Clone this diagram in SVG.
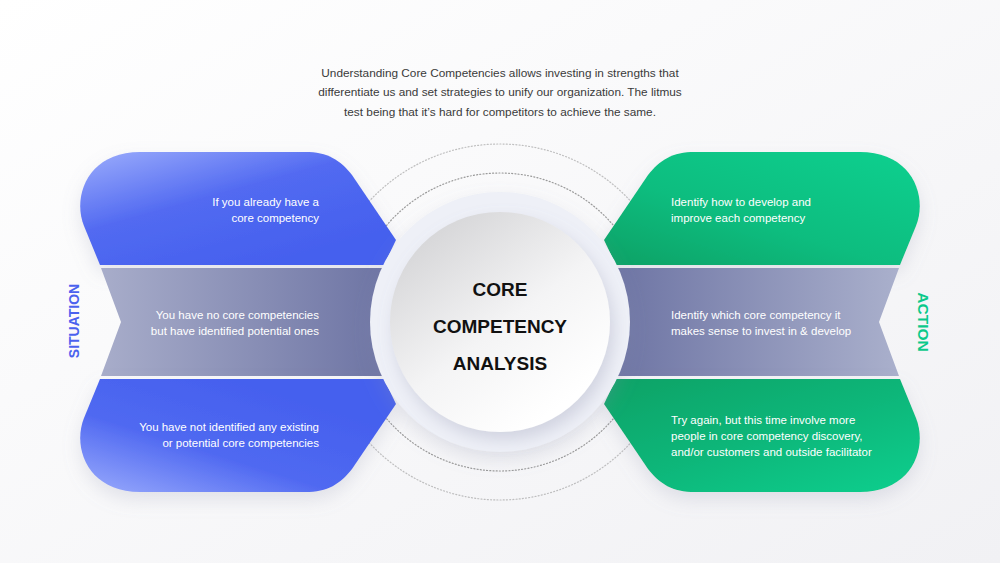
<svg xmlns="http://www.w3.org/2000/svg" width="1000" height="563" viewBox="0 0 1000 563">
  <defs>
    <linearGradient id="bg" x1="0" y1="0" x2="1" y2="1">
      <stop offset="0" stop-color="#ffffff"/>
      <stop offset="1" stop-color="#f1f1f4"/>
    </linearGradient>
    <linearGradient id="blueTop" x1="0" y1="0" x2="0.7" y2="0.9">
      <stop offset="0" stop-color="#9cadfc"/>
      <stop offset="0.5" stop-color="#526af1"/>
      <stop offset="1" stop-color="#4560ee"/>
    </linearGradient>
    <linearGradient id="blueBot" x1="0" y1="1" x2="0.7" y2="0.2">
      <stop offset="0" stop-color="#9aabfc"/>
      <stop offset="0.5" stop-color="#5069f1"/>
      <stop offset="1" stop-color="#4560ee"/>
    </linearGradient>
    <linearGradient id="greenTop" x1="1" y1="0" x2="0.1" y2="1">
      <stop offset="0" stop-color="#0dd08f"/>
      <stop offset="0.6" stop-color="#0abd7f"/>
      <stop offset="1" stop-color="#07a468"/>
    </linearGradient>
    <linearGradient id="greenBot" x1="0.1" y1="0" x2="1" y2="1">
      <stop offset="0" stop-color="#07a468"/>
      <stop offset="0.5" stop-color="#0ab77a"/>
      <stop offset="1" stop-color="#0dcf8e"/>
    </linearGradient>
    <linearGradient id="bandL" x1="0" y1="0" x2="1" y2="0">
      <stop offset="0" stop-color="#a8adca"/>
      <stop offset="1" stop-color="#666d9f"/>
    </linearGradient>
    <linearGradient id="bandR" x1="0" y1="0" x2="1" y2="0">
      <stop offset="0" stop-color="#666d9f"/>
      <stop offset="1" stop-color="#aab0cc"/>
    </linearGradient>
    <linearGradient id="inner" x1="0.15" y1="0.1" x2="0.75" y2="0.9">
      <stop offset="0" stop-color="#d6d6d8"/>
      <stop offset="0.55" stop-color="#f4f4f5"/>
      <stop offset="1" stop-color="#ffffff"/>
    </linearGradient>
    <clipPath id="arcClip">
      <rect x="300" y="100" width="400" height="135"/>
      <rect x="300" y="410" width="400" height="120"/>
    </clipPath>
    <filter id="shadow" x="-20%" y="-20%" width="140%" height="150%">
      <feDropShadow dx="0" dy="8" stdDeviation="9" flood-color="#8d93ad" flood-opacity="0.22"/>
    </filter>
    <filter id="cshadow" x="-20%" y="-20%" width="140%" height="150%">
      <feDropShadow dx="4" dy="8" stdDeviation="8" flood-color="#8d93ad" flood-opacity="0.3"/>
    </filter>
    <style>
      .body { font-family: "Liberation Sans", Arial, sans-serif; font-size: 11.5px; fill: #ffffff; }
      .intro { font-family: "Liberation Sans", Arial, sans-serif; font-size: 11.8px; fill: #3a3a3a; }
      .title { font-family: "Liberation Sans", Arial, sans-serif; font-size: 19px; font-weight: bold; fill: #111111; }
      .side { font-family: "Liberation Sans", Arial, sans-serif; font-weight: bold; }
      .dots { fill: none; stroke: #9a9a9a; stroke-width: 1.2; stroke-dasharray: 1 2.2; stroke-linecap: round; }
    </style>
  </defs>

  <rect x="0" y="0" width="1000" height="563" fill="url(#bg)"/>

  <g id="intro">
    <text class="intro" x="500" y="77" text-anchor="middle">Understanding Core Competencies allows investing in strengths that</text>
    <text class="intro" x="500" y="96" text-anchor="middle">differentiate us and set strategies to unify our organization. The litmus</text>
    <text class="intro" x="500" y="116" text-anchor="middle">test being that it’s hard for competitors to achieve the same.</text>
  </g>

  <g id="rings" clip-path="url(#arcClip)">
    <circle class="dots" cx="500" cy="322" r="178" opacity="0.6"/>
    <circle class="dots" cx="500" cy="322" r="149"/>
  </g>

  <g id="situation-1">
    <path d="M 100 265 L 84 226 C 72 196 88 152 140 152 L 305 152 C 328 152 340 160 352 175 L 396 240 L 384 265 Z" fill="url(#blueTop)" filter="url(#shadow)"/>
    <text class="body" x="319" y="206" text-anchor="end">If you already have a</text>
    <text class="body" x="319" y="222" text-anchor="end">core competency</text>
  </g>

  <g id="situation-2">
    <path d="M 101 268 L 420 268 L 420 376 L 101 376 L 121 322 Z" fill="url(#bandL)"/>
    <text class="body" x="319" y="319" text-anchor="end">You have no core competencies</text>
    <text class="body" x="319" y="335" text-anchor="end">but have identified potential ones</text>
  </g>

  <g id="situation-3">
    <path d="M 100 379 L 84 418 C 72 448 88 492 140 492 L 305 492 C 328 492 340 484 352 469 L 396 404 L 384 379 Z" fill="url(#blueBot)" filter="url(#shadow)"/>
    <text class="body" x="319" y="431" text-anchor="end">You have not identified any existing</text>
    <text class="body" x="319" y="447" text-anchor="end">or potential core competencies</text>
  </g>

  <g id="action-1">
    <path d="M 900 265 L 916 226 C 928 196 912 152 860 152 L 695 152 C 672 152 660 160 648 175 L 604 240 L 616 265 Z" fill="url(#greenTop)" filter="url(#shadow)"/>
    <text class="body" x="671" y="206">Identify how to develop and</text>
    <text class="body" x="671" y="222">improve each competency</text>
  </g>

  <g id="action-2">
    <path d="M 899 268 L 580 268 L 580 376 L 899 376 L 879 322 Z" fill="url(#bandR)"/>
    <text class="body" x="671" y="319">Identify which core competency it</text>
    <text class="body" x="671" y="335">makes sense to invest in &amp; develop</text>
  </g>

  <g id="action-3">
    <path d="M 900 379 L 916 418 C 928 448 912 492 860 492 L 695 492 C 672 492 660 484 648 469 L 604 404 L 616 379 Z" fill="url(#greenBot)" filter="url(#shadow)"/>
    <text class="body" x="671" y="424">Try again, but this time involve more</text>
    <text class="body" x="671" y="440">people in core competency discovery,</text>
    <text class="body" x="671" y="456">and/or customers and outside facilitator</text>
  </g>

  <g id="core">
    <circle cx="500" cy="322" r="130" fill="#eef0f7" filter="url(#shadow)"/>
    <circle cx="500" cy="322" r="110" fill="url(#inner)" filter="url(#cshadow)"/>
    <text class="title" x="500" y="296" text-anchor="middle">CORE</text>
    <text class="title" x="500" y="333" text-anchor="middle">COMPETENCY</text>
    <text class="title" x="500" y="370" text-anchor="middle">ANALYSIS</text>
  </g>

  <g id="label-situation">
    <text class="side" transform="translate(79 321) rotate(-90)" text-anchor="middle" font-size="14" fill="#4a62ee">SITUATION</text>
  </g>
  <g id="label-action">
    <text class="side" transform="translate(918 322) rotate(90)" text-anchor="middle" font-size="15.5" fill="#0bc98a">ACTION</text>
  </g>
</svg>
